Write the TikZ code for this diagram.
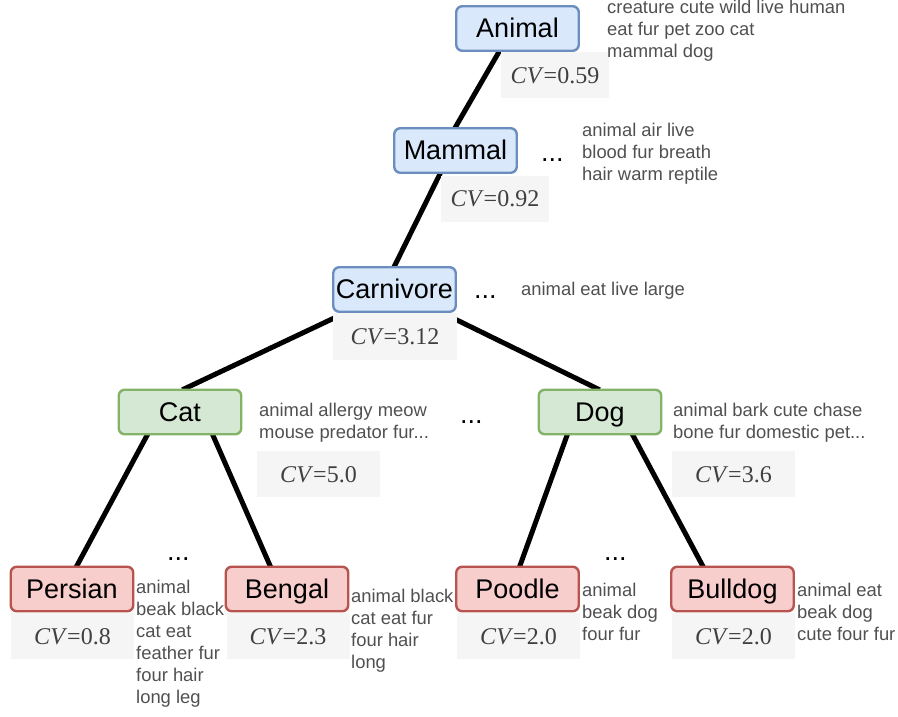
\documentclass[tikz,border=0pt]{standalone}
\usepackage{fontspec}
\setmainfont{Liberation Serif}
\setsansfont{Liberation Sans}
\usetikzlibrary{backgrounds}
\definecolor{blueFill}{HTML}{DAE8FC}
\definecolor{blueLine}{HTML}{6C8EBF}
\definecolor{greenFill}{HTML}{D5E8D4}
\definecolor{greenLine}{HTML}{82B366}
\definecolor{redFill}{HTML}{F8CECC}
\definecolor{redLine}{HTML}{B85450}
\definecolor{cvFill}{HTML}{F5F5F5}
\definecolor{cvText}{HTML}{404040}
\definecolor{wordText}{HTML}{505050}

\begin{document}
\begin{tikzpicture}[x=1pt,y=-1pt,
  concept/.style={draw, line width=2.4pt, rounded corners=6pt,
    minimum width=122.5pt, minimum height=44.5pt, inner sep=0pt,
    font=\sffamily\fontsize{27}{30}\selectfont,
    text height=19.5pt, text depth=1pt},
  upper/.style={concept, fill=blueFill, draw=blueLine},
  middle/.style={concept, fill=greenFill, draw=greenLine},
  leaf/.style={concept, fill=redFill, draw=redLine},
  cvbox/.style={fill=cvFill, inner sep=0pt, minimum height=46pt,
    font=\rmfamily\fontsize{24}{28}\selectfont, text=cvText,
    text height=16pt, text depth=0pt},
  words/.style={anchor=north west, inner sep=0pt, align=left,
    text=wordText, font=\sffamily\fontsize{18.4}{22}\selectfont},
  more/.style={anchor=base west, inner sep=0pt,
    font=\sffamily\fontsize{27}{30}\selectfont},
  link/.style={line width=5pt, black, shorten <=-3pt, shorten >=-3pt}
]
\useasboundingbox (0,0) rectangle (898,717);

% CV value boxes (drawn first so the concept borders stay on top)
\node[cvbox, minimum width=108pt] (cvanimal)    at (555,75.5)  {\textit{CV}=0.59};
\node[cvbox, minimum width=108pt] (cvmammal)    at (495,198.5) {\textit{CV}=0.92};
\node[cvbox, minimum width=124pt, minimum height=47pt] (cvcarnivore) at (395,336) {\textit{CV}=3.12};
\node[cvbox, minimum width=123pt] (cvcat)       at (318.5,474) {\textit{CV}=5.0};
\node[cvbox, minimum width=123pt] (cvdog)       at (733.5,474) {\textit{CV}=3.6};
\node[cvbox, minimum width=123pt] (cvpersian)   at (72.5,636)  {\textit{CV}=0.8};
\node[cvbox, minimum width=123pt] (cvbengal)    at (288,636)   {\textit{CV}=2.3};
\node[cvbox, minimum width=123pt] (cvpoodle)    at (518.5,636) {\textit{CV}=2.0};
\node[cvbox, minimum width=123pt] (cvbulldog)   at (733.5,636) {\textit{CV}=2.0};

% concept hierarchy
\node[upper]  (animal)    at (517.5,28.5)  {Animal};
\node[upper]  (mammal)    at (455.5,150.5) {Mammal};
\node[upper]  (carnivore) at (394.5,289.5) {Carnivore};
\node[middle] (cat)       at (180,412)     {Cat};
\node[middle] (dog)       at (600,412)     {Dog};
\node[leaf]   (persian)   at (72,589)      {Persian};
\node[leaf]   (bengal)    at (287,589)     {Bengal};
\node[leaf]   (poodle)    at (517.5,589)   {Poodle};
\node[leaf]   (bulldog)   at (732.5,589)   {Bulldog};

% associated words
\node[words] (wanimal)    at (607,0)   {creature cute wild live human\\eat fur pet zoo cat\\mammal dog};
\node[words] (wmammal)    at (582,123) {animal air live\\blood fur breath\\hair warm reptile};
\node[words] (wcarnivore) at (521,282) {animal eat live large};
\node[words] (wcat)       at (259,403) {animal allergy meow\\mouse predator fur...};
\node[words] (wdog)       at (673,403) {animal bark cute chase\\bone fur domestic pet...};
\node[words] (wpersian)   at (136,580) {animal\\beak black\\cat eat\\feather fur\\four hair\\long leg};
\node[words] (wbengal)    at (351,589) {animal black\\cat eat fur\\four hair\\long};
\node[words] (wpoodle)    at (582,583) {animal\\beak dog\\four fur};
\node[words] (wbulldog)   at (797,583) {animal eat\\beak dog\\cute four fur};

% omitted siblings
\node[more] (moremammal)    at (541,161) {...};
\node[more] (morecarnivore) at (474,298) {...};
\node[more] (moremiddle)    at (460,423) {...};
\node[more] (morecat)       at (167,560) {...};
\node[more] (moredog)       at (604,560) {...};

% tree edges
\begin{scope}[on background layer]
  \draw[link] ([xshift=-5pt]animal.center) -- (mammal.north);
  \draw[link] ([xshift=-4pt]mammal.center) -- (carnivore.north);
  \draw[link] (carnivore.center) -- ([xshift=5pt]cat.north);
  \draw[link] (carnivore.center) -- ([xshift=-3pt]dog.north);
  \draw[link] ([xshift=-33pt]cat.south) -- ([xshift=5pt]persian.north);
  \draw[link] ([xshift=33pt]cat.south) -- ([xshift=-17pt]bengal.north);
  \draw[link] ([xshift=-33pt]dog.south) -- ([xshift=2.5pt]poodle.north);
  \draw[link] ([xshift=33pt]dog.south) -- ([xshift=-30pt]bulldog.north);
\end{scope}
\end{tikzpicture}
\end{document}
